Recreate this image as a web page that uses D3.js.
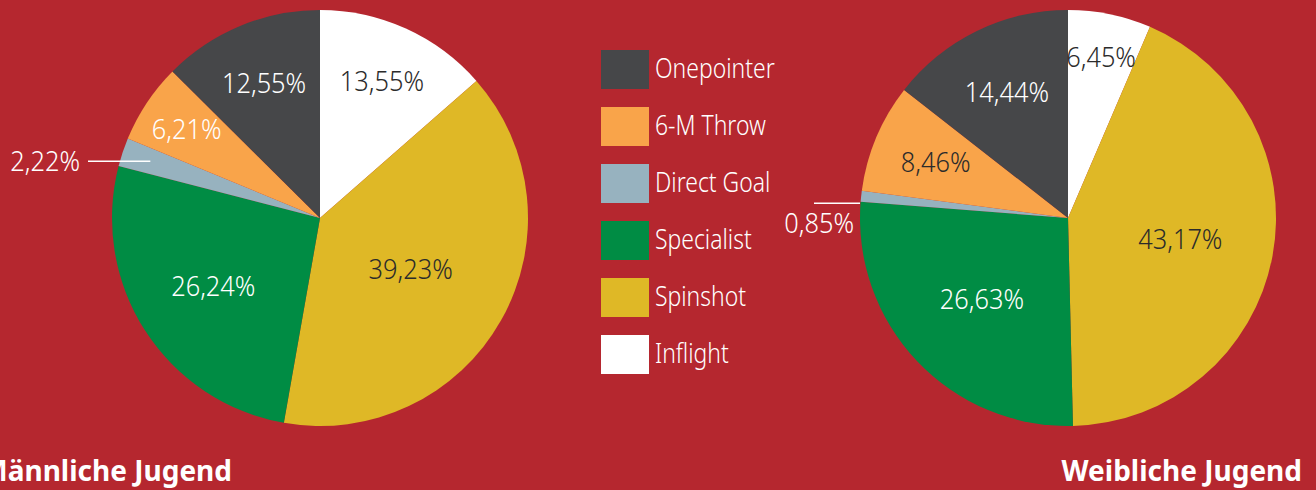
<!DOCTYPE html>
<html>
<head>
<meta charset="utf-8">
<script src="https://cdn.jsdelivr.net/npm/d3@7"></script>
<style>
  html, body { margin: 0; padding: 0; background: #b5272f; }
  svg text { font-family: "Noto Sans", "Open Sans", sans-serif; }
</style>
</head>
<body>
<svg id="chart"></svg>
<script>
const width = 1316;
const height = 490;

// data (clockwise from 12 o'clock)
const categories = ['Inflight', 'Spinshot', 'Specialist', 'Direct Goal', '6-M Throw', 'Onepointer'];
const maleValues = [13.55, 39.23, 26.24, 2.22, 6.21, 12.55];
const femaleValues = [6.45, 43.17, 26.63, 0.85, 8.46, 14.44];
const titles = ['Männliche Jugend', 'Weibliche Jugend'];
// legend goes top to bottom
const legendOrder = ['Onepointer', '6-M Throw', 'Direct Goal', 'Specialist', 'Spinshot', 'Inflight'];

const color = d3.scaleOrdinal()
    .domain(categories)
    .range(['#ffffff', '#dfb826', '#008c44', '#97b2bf', '#f9a44a', '#464749']);

const svg = d3.select('#chart')
    .attr('width', width)
    .attr('height', height);

const R = 208;
const fmt = v => d3.format('.2f')(v).replace('.', ',') + '%';

// label layout per pie: radius factor, dark text?
const pies = [
  {values: maleValues, cx: 320, cy: 218, title: titles[0],
   lr: [0.72, 0.5, 0.61, 0, 0.77, 0.70],
   dark: [true, true, false, false, false, false]},
  {values: femaleValues, cx: 1068, cy: 218, title: titles[1],
   lr: [0.79, 0.55, 0.57, 0, 0.69, 0.67],
   dark: [true, true, false, false, true, false]}
];

const pie = d3.pie().sort(null).value(d => d.value);
const arc = d3.arc().innerRadius(0).outerRadius(R);

pies.forEach(function(p, pi) {
    const data = categories.map((c, i) => ({cat: c, value: p.values[i], i: i}));
    const arcs = pie(data);
    const g = svg.append('g').attr('transform', `translate(${p.cx},${p.cy})`);

    g.selectAll('path')
        .data(arcs)
        .enter()
        .append('path')
        .attr('d', arc)
        .attr('fill', d => color(d.data.cat));

    g.selectAll('text.lbl')
        .data(arcs.filter(d => p.lr[d.data.i] > 0))
        .enter()
        .append('text')
        .attr('class', 'lbl')
        .attr('transform', function(d) {
            const a = d3.arc().innerRadius(0).outerRadius(2 * R * p.lr[d.data.i]);
            return `translate(${a.centroid(d)}) scale(0.94,1)`;
        })
        .attr('text-anchor', 'middle')
        .attr('dy', '0.36em')
        .attr('font-size', 27)
        .attr('font-weight', 300)
        .attr('fill', d => p.dark[d.data.i] ? '#2b2b2b' : '#ffffff')
        .text(d => fmt(d.data.value));

    // small slice: leader line to the left
    const small = arcs[3];
    const inner = d3.arc().innerRadius(0).outerRadius(2 * R * 0.86).centroid(small);
    const xEnd = pi == 0 ? -R - 24 : -R - 46;
    const x1 = pi == 0 ? inner[0] : -R;
    const ly1 = pi == 0 ? inner[1] : inner[1] + 4;
    g.append('line')
        .attr('x1', x1).attr('y1', ly1)
        .attr('x2', xEnd).attr('y2', ly1)
        .attr('stroke', '#ffffff')
        .attr('stroke-width', 1.5);
    g.append('text')
        .attr('transform', pi == 0
            ? `translate(${xEnd - 8},${ly1}) scale(0.94,1)`
            : `translate(${xEnd + 40},${ly1 + 20}) scale(0.94,1)`)
        .attr('dy', '0.36em')
        .attr('text-anchor', 'end')
        .attr('font-size', 27)
        .attr('font-weight', 300)
        .attr('fill', '#ffffff')
        .text(fmt(small.data.value));

    svg.append('text')
        .attr('x', pi == 0 ? 232 : 1302)
        .attr('y', 481)
        .attr('text-anchor', 'end')
        .attr('font-size', 28)
        .attr('font-weight', 700)
        .attr('fill', '#ffffff')
        .text(p.title);
});

// legend
const legend = svg.append('g').attr('transform', 'translate(601,50)');
const ly = d3.scaleBand().domain(legendOrder).range([0, 57 * 6]);
const item = legend.selectAll('g')
    .data(legendOrder)
    .enter()
    .append('g')
    .attr('transform', d => `translate(0,${ly(d)})`);
item.append('rect')
    .attr('width', 48)
    .attr('height', 39)
    .attr('fill', d => color(d));
item.append('text')
    .attr('transform', 'translate(54,18) scale(0.85,1)')
    .attr('dy', '0.36em')
    .attr('font-size', 27)
    .attr('font-weight', 300)
    .attr('fill', '#ffffff')
    .text(d => d);
</script>
</body>
</html>
